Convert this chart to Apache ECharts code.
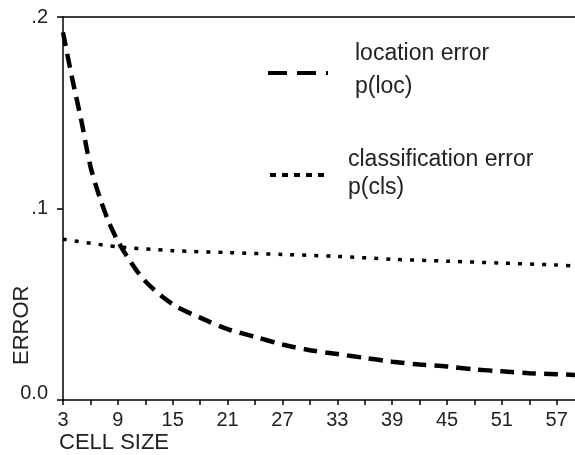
<!DOCTYPE html>
<html><head><meta charset="utf-8">
<script src="https://cdn.jsdelivr.net/npm/echarts@6/dist/echarts.min.js"></script>
<style>html,body{margin:0;padding:0;background:#fff}#c{width:575px;height:455px}</style>
</head><body><div id="c"></div>
<script>
const locX = [3,4,5,6,7,8,9,10,12,15,18,21,24,27,30,33,36,39,42,45,48,51,54,57,59];
const locY = [0.192,0.168,0.146,0.122,0.106,0.093,0.083,0.075,0.062,0.050,0.043,0.037,0.033,0.029,0.026,0.024,0.022,0.020,0.0185,0.0175,0.016,0.015,0.014,0.0135,0.013];
const clsX = [3,9,15,21,27,33,39,45,51,57,59];
const clsY = [0.084,0.080,0.078,0.077,0.076,0.075,0.0735,0.0725,0.0715,0.0705,0.070];
const xLabels = [3,9,15,21,27,33,39,45,51,57];
const yLabels = {0:'{z|0.0}',0.1:'.1',0.2:'.2'};
const legendNames = ['location error\np(loc)','classification error\np(cls)'];

const font = 'Liberation Sans, Arial, sans-serif';
const chart = echarts.init(document.getElementById('c'));
chart.setOption({
  animation:false,
  backgroundColor:'#fff',
  grid:{left:63,top:17,right:0,bottom:55,outerBoundsMode:'none',containLabel:false},
  xAxis:[{
    type:'value',min:3,max:59,interval:3,
    axisLine:{lineStyle:{color:'#000',width:1.5}},
    axisTick:{length:5,lineStyle:{color:'#000',width:1.5}},
    splitLine:{show:false},
    axisLabel:{color:'#222',fontSize:20,fontFamily:font,margin:10,showMaxLabel:false,
      formatter:v=>xLabels.includes(Math.round(v))?String(Math.round(v)):''}
  },{
    type:'value',position:'top',min:3,max:59,
    axisLine:{show:true,lineStyle:{color:'#000',width:1.5}},
    axisTick:{show:false},axisLabel:{show:false},splitLine:{show:false}
  }],
  yAxis:{
    type:'value',min:0,max:0.2,interval:0.1,
    axisLine:{lineStyle:{color:'#000',width:1.5}},
    axisTick:{show:true,length:6,lineStyle:{color:'#000',width:1.5}},
    splitLine:{show:false},
    axisLabel:{color:'#222',fontSize:20,fontFamily:font,margin:15,
      formatter:v=>yLabels[Math.round(v*10)/10],
      rich:{z:{fontSize:20,fontFamily:font,color:'#222',padding:[0,0,14,0]}}}
  },
  series:[{
    type:'line',name:legendNames[0],smooth:0.3,showSymbol:false,
    data:locX.map((x,i)=>[x,locY[i]]),
    lineStyle:{color:'#000',width:4.5,type:[14,8]}
  },{
    type:'line',name:legendNames[1],smooth:0.3,showSymbol:false,
    data:clsX.map((x,i)=>[x,clsY[i]]),
    lineStyle:{color:'#000',width:3.5,type:[4,8]}
  }],
  graphic:[
    {type:'text',left:59,top:432,style:{text:'CELL SIZE',font:'22px '+font,fill:'#222'}},
    {type:'text',x:11,y:365,rotation:Math.PI/2,style:{text:'ERROR',font:'22px '+font,fill:'#222',align:'left',verticalAlign:'top'}},
    {type:'line',shape:{x1:268,y1:73,x2:328,y2:73},style:{stroke:'#000',lineWidth:4,lineDash:[19,10]}},
    {type:'text',left:355,top:42,style:{text:'location error',font:'23px '+font,fill:'#222'}},
    {type:'text',left:355,top:75,style:{text:'p(loc)',font:'23px '+font,fill:'#222'}},
    {type:'line',shape:{x1:270,y1:175,x2:326,y2:175},style:{stroke:'#000',lineWidth:4,lineDash:[6,6]}},
    {type:'text',left:348,top:148,style:{text:'classification error',font:'23px '+font,fill:'#222'}},
    {type:'text',left:348,top:176,style:{text:'p(cls)',font:'23px '+font,fill:'#222'}}
  ]
});
</script></body></html>
